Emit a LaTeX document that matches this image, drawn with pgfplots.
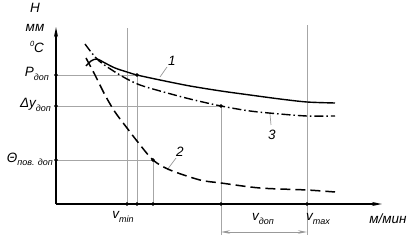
\documentclass[border=0pt]{standalone}
\usepackage{fontspec}
\setmainfont{Liberation Sans}
\usepackage{pgfplots}
\pgfplotsset{compat=1.18}
\usetikzlibrary{arrows.meta}
\newcommand{\sub}[1]{\raisebox{-0.45ex}{\fontsize{9}{9}\selectfont\itshape #1}}
\newcommand{\lab}[1]{{\fontsize{13.5}{15}\selectfont\itshape #1}}
\begin{document}
\begin{tikzpicture}
\begin{axis}[
  scale only axis, width=412pt, height=241pt,
  xmin=0, xmax=412, ymin=0, ymax=241,
  axis lines=none, clip=false,
]
% guide lines (gray)
\addplot[gray!70, line width=0.7pt] coordinates {(127,37) (127,213)};
\addplot[gray!70, line width=0.7pt] coordinates {(137,37) (137,166)};
\addplot[gray!70, line width=0.7pt] coordinates {(153,37) (153,81)};
\addplot[gray!70, line width=0.7pt] coordinates {(221,6) (221,135)};
\addplot[gray!70, line width=0.7pt] coordinates {(307,6) (307,216)};
\addplot[gray!70, line width=0.7pt] coordinates {(56,166) (137,166)};
\addplot[gray!70, line width=0.7pt] coordinates {(56,135) (221,135)};
\addplot[gray!70, line width=0.7pt] coordinates {(56,81) (153,81)};
% v_don arrow
\addplot[gray!80, line width=0.8pt, {Stealth[length=9pt,width=3.5pt]}-{Stealth[length=9pt,width=3.5pt]}] coordinates {(221,9) (307,9)};
% leaders
\addplot[gray!80, line width=0.7pt] coordinates {(160,164) (167,174)};
\addplot[gray!80, line width=0.7pt] coordinates {(270,127) (271,116)};
\addplot[gray!80, line width=0.7pt] coordinates {(167,71) (176,83)};
% axes
\addplot[black, line width=1.6pt, -{Stealth[length=10pt,width=4pt]}] coordinates {(56,37) (56,214)};
\addplot[black, line width=1.6pt, -{Stealth[length=10pt,width=4pt]}] coordinates {(56,37) (382,37)};
% curve 1
\addplot[black, line width=1.4pt, smooth] coordinates {
(86,175) (91,180) (97,182) (105,178) (115,173) (127,169) (137,166) (160,161) (190,155) (221,150) (250,146) (280,142) (307,139) (335,138)};
% curve 3
\addplot[black, line width=1.4pt, smooth, dash pattern=on 9pt off 3pt on 1.5pt off 3pt] coordinates {
(85,197) (91,189) (97,182) (103,177) (115,169) (127,162) (140,156) (160,150) (190,142) (221,135) (250,130) (280,127) (307,125) (335,125)};
% curve 2
\addplot[black, line width=1.5pt, smooth, dash pattern=on 10pt off 5pt] coordinates {
(86,183) (95,166) (105,146) (115,129) (127,113) (137,100) (153,81) (170,71) (200,61) (221,58) (260,53) (307,51) (335,49)};
% marks
\addplot[only marks, mark=*, mark size=1.6pt, black] coordinates {
(56,166) (56,135) (56,81) (137,166) (221,135) (153,81) (127,37) (137,37) (153,37) (221,37) (307,37)};
% labels
\node[inner sep=0pt] at (35,233) {\lab{H}};
\node[inner sep=0pt] at (35,213) {\lab{мм}};
\node[inner sep=0pt] at (37,194) {\lab{\raisebox{0.9ex}{\fontsize{7.5}{7.5}\selectfont 0}C}};
\node[inner sep=0pt, anchor=east] at (49,167) {\lab{P\sub{доп}}};
\node[inner sep=0pt, anchor=east] at (51,136) {\lab{Δy\sub{доп}}};
\node[inner sep=0pt, anchor=east] at (53,82) {\lab{Θ\sub{пов. доп}}};
\node[inner sep=0pt] at (172,180) {\lab{1}};
\node[inner sep=0pt] at (180,89) {\lab{2}};
\node[inner sep=0pt] at (272,106) {\lab{3}};
\node[inner sep=0pt] at (123,24) {\lab{v\sub{min}}};
\node[inner sep=0pt] at (263,22) {\lab{v\sub{доп}}};
\node[inner sep=0pt] at (318,22) {\lab{v\sub{max}}};
\node[inner sep=0pt] at (388,22) {\lab{м/мин}};
\end{axis}
\pgfresetboundingbox
\path (current axis.south west) rectangle (current axis.north east);
\end{tikzpicture}
\end{document}
